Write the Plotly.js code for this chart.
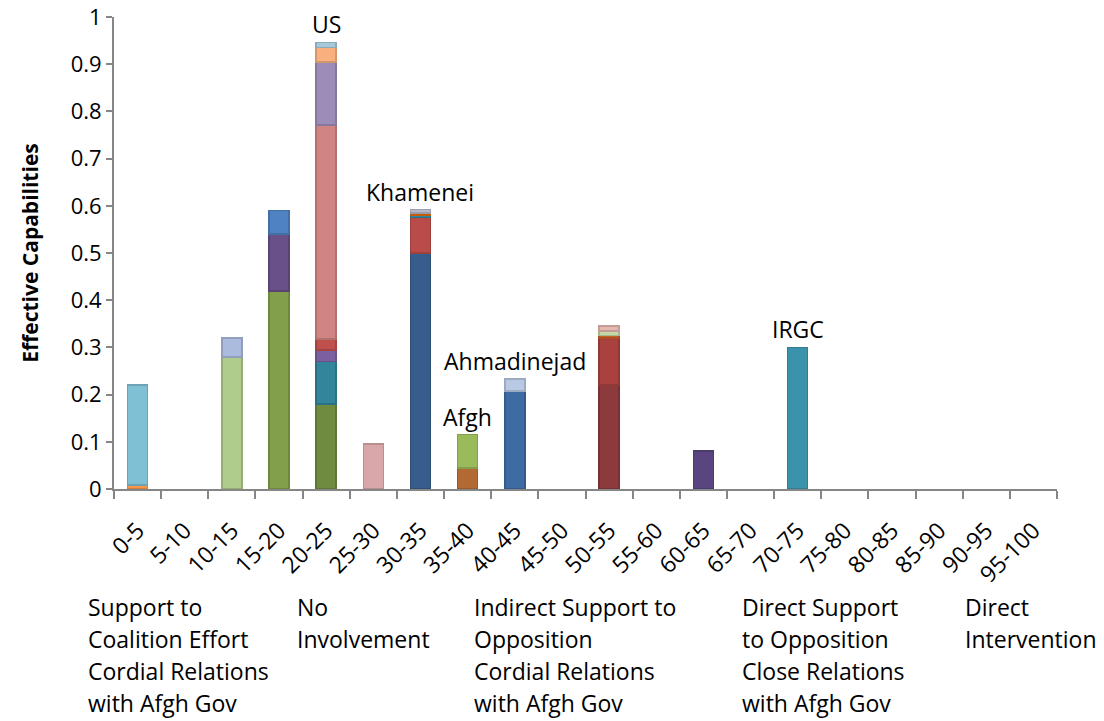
<!DOCTYPE html>
<html>
<head>
<meta charset="utf-8">
<script src="https://cdn.plot.ly/plotly-3.0.1.min.js"></script>
<style>html,body{margin:0;padding:0;background:#fff;}#chart{width:1104px;height:721px;}</style>
</head>
<body>
<div id="chart"></div>
<script>
// Categories
const categories = ["0-5","5-10","10-15","15-20","20-25","25-30","30-35","35-40","40-45","45-50",
  "50-55","55-60","60-65","65-70","70-75","75-80","80-85","85-90","90-95","95-100"];

// Stacked segment heights, bottom layer first
const layer1 = [0.008,0,0.28,0.42,0.18,0.095,0.50,0.045,0.208,0,0.22,0,0.08,0,0.30,0,0,0,0,0];
const layer2 = [0.212,0,0.04,0.12,0.09,0,0.075,0.07,0.025,0,0.10,0,0,0,0,0,0,0,0,0];
const layer3 = [0,0,0,0.05,0.025,0,0.005,0,0,0,0.005,0,0,0,0,0,0,0,0,0];
const layer4 = [0,0,0,0,0.023,0,0.005,0,0,0,0.01,0,0,0,0,0,0,0,0,0];
const layer5 = [0,0,0,0,0.453,0,0.007,0,0,0,0.01,0,0,0,0,0,0,0,0,0];
const layer6 = [0,0,0,0,0.134,0,0,0,0,0,0,0,0,0,0,0,0,0,0,0];
const layer7 = [0,0,0,0,0.03,0,0,0,0,0,0,0,0,0,0,0,0,0,0,0];
const layer8 = [0,0,0,0,0.011,0,0,0,0,0,0,0,0,0,0,0,0,0,0,0];
const layers = [layer1,layer2,layer3,layer4,layer5,layer6,layer7,layer8];

// Bar labels
const labelCats = ["20-25","30-35","35-40","40-45","70-75"];
const labelTexts = ["US","Khamenei","Afgh","Ahmadinejad","IRGC"];

// Bottom group descriptions
const groupLines = [
  ["Support to","Coalition Effort","Cordial Relations","with Afgh Gov"],
  ["No","Involvement"],
  ["Indirect Support to","Opposition","Cordial Relations","with Afgh Gov"],
  ["Direct Support","to Opposition","Close Relations","with Afgh Gov"],
  ["Direct","Intervention"]
];
const groupX = [86,295,472,740,963];

// Styles (colors per layer per category)
const W = "#ffffff";
const layerColors = [
  ["#F79646",W,"#B0CC8C","#82A04B","#6F8B3F","#D9A7A9","#365D8B","#B36A32","#3E6BA4",W,"#8C3A3B",W,"#5B4580",W,"#3B93AB",W,W,W,W,W],
  ["#80C0D5",W,"#AABBDD","#6A5089","#33859C",W,"#B94B49","#9ABB59","#B9C9E3",W,"#A9423F",W,W,W,W,W,W,W,W,W],
  [W,W,W,"#4E82C1","#7B5FA1",W,"#31859C",W,W,W,"#C8602A",W,W,W,W,W,W,W,W,W],
  [W,W,W,W,"#C0504D",W,"#E46C0A",W,W,W,"#C6DAA8",W,W,W,W,W,W,W,W,W],
  [W,W,W,W,"#D08583",W,"#B8B8C8",W,W,W,"#E6B9B0",W,W,W,W,W,W,W,W,W],
  [W,W,W,W,"#9C8DB8",W,W,W,W,W,W,W,W,W,W,W,W,W,W,W],
  [W,W,W,W,"#F9B07F",W,W,W,W,W,W,W,W,W,W,W,W,W,W,W],
  [W,W,W,W,"#A5C9D9",W,W,W,W,W,W,W,W,W,W,W,W,W,W,W]
];

function darken(hex, f) {
  const n = parseInt(hex.slice(1), 16);
  const r = Math.round(((n >> 16) & 255) * f), g = Math.round(((n >> 8) & 255) * f), b = Math.round((n & 255) * f);
  return "rgb(" + r + "," + g + "," + b + ")";
}

const FONT = "Open Sans, sans-serif";

const traces = layers.map((vals, i) => ({
  type: "bar",
  x: categories,
  y: vals.map(v => (v > 0 ? v : null)),
  marker: {
    color: layerColors[i],
    line: { color: layerColors[i].map(c => darken(c, 0.85)), width: 1.5 }
  },
  hoverinfo: "x+y",
  showlegend: false
}));

const totals = categories.map((c, j) => layers.reduce((s, l) => s + l[j], 0));

const annotations = [];
labelCats.forEach((c, k) => {
  const j = categories.indexOf(c);
  annotations.push({
    x: c, y: totals[j], xref: "x", yref: "y",
    text: labelTexts[k], showarrow: false,
    yanchor: "bottom", xanchor: "center", yshift: 0,
    font: { family: FONT, size: 23, color: "#000" }
  });
});
const plotTop = 17, plotBottom = 489, plotLeft = 114, plotRight = 1057;
groupLines.forEach((lines, g) => {
  lines.forEach((t, li) => {
    const py = 607 + li * 32;
    annotations.push({
      x: (groupX[g] - plotLeft) / (plotRight - plotLeft), xref: "paper",
      y: (plotBottom - py) / (plotBottom - plotTop), yref: "paper",
      text: t, showarrow: false, xanchor: "left", yanchor: "middle", align: "left",
      font: { family: FONT, size: 23, color: "#000" }
    });
  });
});

const layout = {
  width: 1104, height: 721,
  margin: { l: plotLeft, r: 1104 - plotRight, t: plotTop, b: 721 - plotBottom },
  barmode: "stack",
  bargap: 0.575,
  paper_bgcolor: "#fff", plot_bgcolor: "#fff",
  font: { family: FONT, color: "#000" },
  xaxis: {
    type: "category",
    tickangle: -45,
    tickson: "boundaries",
    ticks: "outside", ticklen: 8, tickcolor: "#868686", tickwidth: 2,
    showline: true, linecolor: "#868686", linewidth: 2,
    showgrid: false, zeroline: false,
    ticklabelshift: 0,
    ticklabelstandoff: 17,
    tickfont: { size: 23, family: FONT }
  },
  yaxis: {
    range: [0, 1],
    dtick: 0.1,
    ticks: "outside", ticklen: 6, tickcolor: "#868686", tickwidth: 2,
    showline: true, linecolor: "#868686", linewidth: 2,
    showgrid: false, zeroline: false,
    tickfont: { size: 22, family: FONT },
    title: { text: "<b>Effective Capabilities</b>", font: { size: 21, family: FONT }, standoff: 26 }
  },
  annotations: annotations
};

Plotly.newPlot("chart", traces, layout, { displayModeBar: false, staticPlot: true });
</script>
</body>
</html>
